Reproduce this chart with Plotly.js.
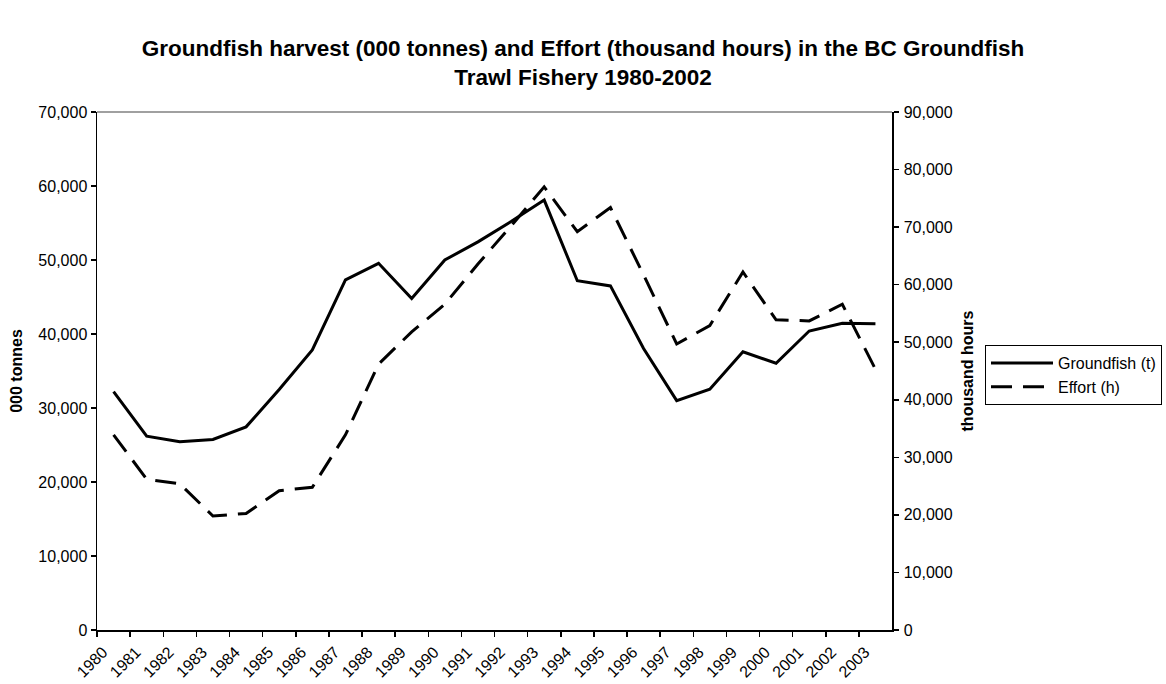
<!DOCTYPE html>
<html>
<head>
<meta charset="utf-8">
<script src="https://cdn.plot.ly/plotly-3.0.1.min.js"></script>
<style>html,body{margin:0;padding:0;background:#fff;}#chart{width:1166px;height:684px;}</style>
</head>
<body>
<div id="chart"></div>
<script>
// Category labels (years on the x axis)
const years = ["1980","1981","1982","1983","1984","1985","1986","1987","1988","1989","1990","1991",
               "1992","1993","1994","1995","1996","1997","1998","1999","2000","2001","2002","2003"];
// Groundfish harvest (000 tonnes), left axis
const groundfish = [32200, 26200, 25450, 25750, 27450, 32500, 37850, 47300, 49550, 44800, 50000, 52450,
                    55200, 58100, 47200, 46500, 38050, 31000, 32550, 37600, 36050, 40400, 41450, 41400];
// Effort (thousand hours), right axis
const effort = [33900, 26200, 25400, 19800, 20250, 24200, 24800, 33900, 46200, 51800, 56600, 63600,
                70200, 77000, 69200, 73400, 61700, 49700, 52900, 62200, 53900, 53700, 56600, 45300];

// Each year's point sits in the middle of its category slot; labels mark the slot start.
const slotIndex = years.map((y, i) => i);
const pointX = years.map((y, i) => i + 0.5);

const FONT = "Liberation Sans, Arial, sans-serif";

const traces = [
  {
    x: pointX, y: groundfish, type: "scatter", mode: "lines", name: "Groundfish (t)",
    line: {color: "#000000", width: 3}, yaxis: "y", hoverinfo: "skip"
  },
  {
    x: pointX, y: effort, type: "scatter", mode: "lines", name: "Effort (h)",
    line: {color: "#000000", width: 3, dash: "21px,11px"}, yaxis: "y2", hoverinfo: "skip"
  }
];

const layout = {
  width: 1166, height: 684,
  margin: {l: 97, r: 274, t: 112, b: 54, autoexpand: false},
  paper_bgcolor: "#ffffff", plot_bgcolor: "#ffffff",
  font: {family: FONT, size: 16, color: "#000000"},
  title: {
    text: "<b>Groundfish harvest (000 tonnes) and Effort (thousand hours) in the BC Groundfish<br>Trawl Fishery 1980-2002</b>",
    font: {family: FONT, size: 22.5, color: "#000000"},
    x: 0.5, xanchor: "center", xref: "container",
    y: 1 - 56 / 684, yanchor: "top", yref: "container"
  },
  showlegend: true,
  legend: {
    xref: "container", yref: "container",
    x: 985 / 1166, xanchor: "left", y: 1 - 345 / 684, yanchor: "top",
    bordercolor: "#000000", borderwidth: 1, bgcolor: "#ffffff",
    font: {family: FONT, size: 16, color: "#000000"},
    itemwidth: 62, tracegroupgap: 0
  },
  xaxis: {
    type: "linear", range: [0, years.length],
    tickmode: "array", tickvals: slotIndex, ticktext: years,
    tickangle: -45, ticks: "outside", ticklen: 5, tickwidth: 1.5, tickcolor: "#000000",
    ticklabelshift: 6,
    showline: true, linecolor: "#000000", linewidth: 1.5,
    showgrid: false, zeroline: false, fixedrange: true,
    tickfont: {family: FONT, size: 16, color: "#000000"}
  },
  yaxis: {
    range: [0, 70000], dtick: 10000, tick0: 0, tickformat: ",d",
    ticks: "outside", ticklen: 5, tickwidth: 1.5, tickcolor: "#000000",
    showline: true, linecolor: "#000000", linewidth: 1.5,
    showgrid: false, zeroline: false, fixedrange: true,
    ticklabelstandoff: 0,
    tickfont: {family: FONT, size: 16, color: "#000000"},
    title: {text: "<b>000 tonnes</b>", font: {family: FONT, size: 16, color: "#000000"}, standoff: 12}
  },
  yaxis2: {
    range: [0, 90000], dtick: 10000, tick0: 0, tickformat: ",d",
    overlaying: "y", side: "right",
    ticks: "outside", ticklen: 5, tickwidth: 1.5, tickcolor: "#000000",
    showline: true, linecolor: "#000000", linewidth: 1.5,
    showgrid: false, zeroline: false, fixedrange: true,
    ticklabelstandoff: 2,
    tickfont: {family: FONT, size: 16, color: "#000000"},
    title: {text: "<b>thousand hours</b>", font: {family: FONT, size: 16, color: "#000000"}, standoff: 10}
  },
  shapes: [
    {type: "line", xref: "paper", yref: "paper", x0: 0, x1: 1, y0: 1, y1: 1,
     line: {color: "#808080", width: 1.5}}
  ]
};

Plotly.newPlot("chart", traces, layout, {staticPlot: true, displayModeBar: false});
</script>
</body>
</html>
